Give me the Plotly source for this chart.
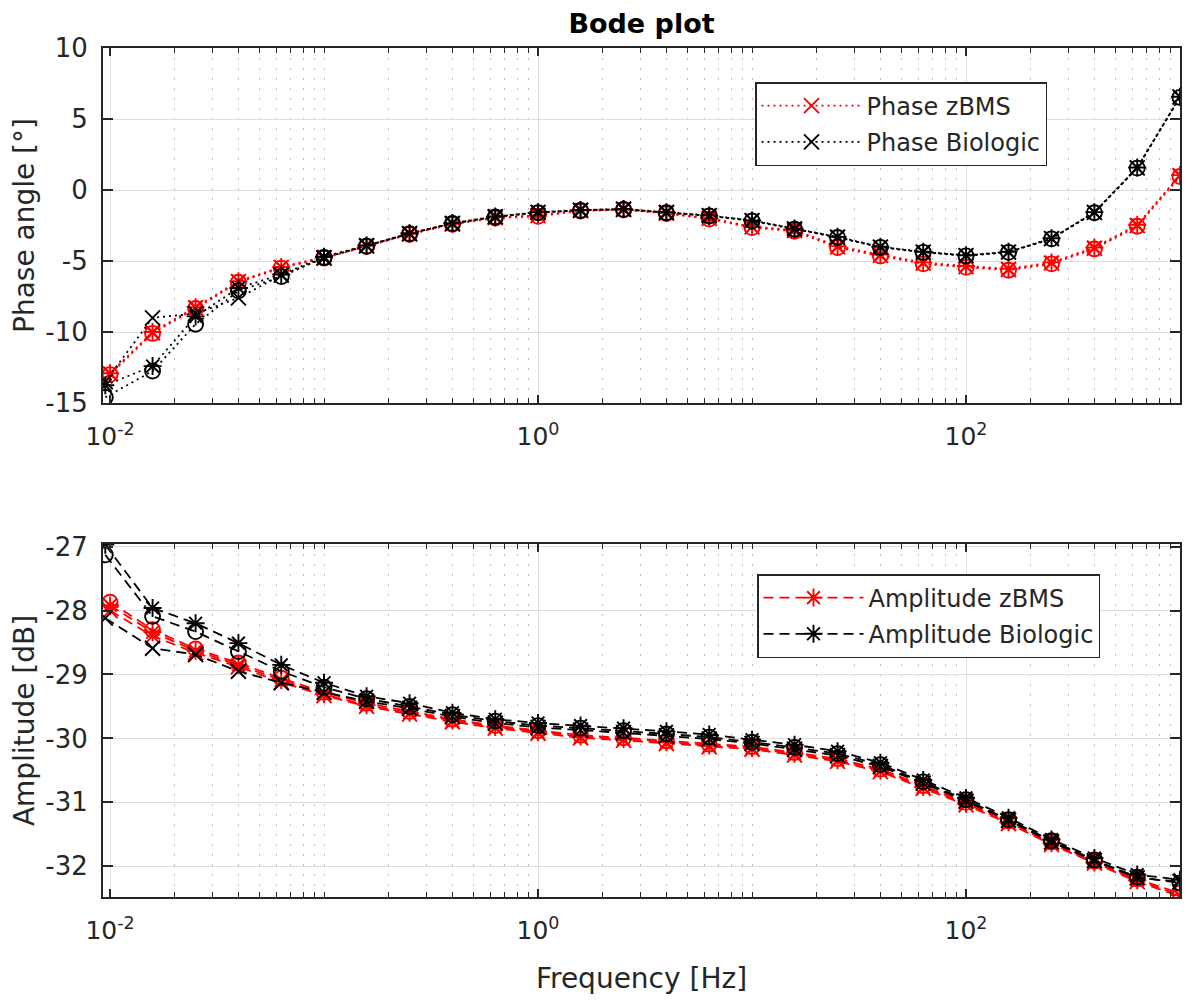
import plotly.graph_objects as go

# ---------------- data ----------------
freq_zbms = [0.01, 0.0158, 0.0251, 0.0398, 0.0631, 0.1, 0.158, 0.251, 0.398, 0.631,
             1.0, 1.58, 2.51, 3.98, 6.31, 10.0, 15.8, 25.1, 39.8, 63.1,
             100.0, 158.0, 251.0, 398.0, 631.0, 1000.0]
freq_biologic = [0.0095, 0.0158, 0.0251, 0.0398, 0.0631, 0.1, 0.158, 0.251, 0.398, 0.631,
                 1.0, 1.58, 2.51, 3.98, 6.31, 10.0, 15.8, 25.1, 39.8, 63.1,
                 100.0, 158.0, 251.0, 398.0, 631.0, 1000.0]

# Phase [deg] - zBMS runs
phase_zbms_x = [-12.95, -10.05, -8.30, -6.45, -5.45, -4.75, -3.95, -3.10, -2.40, -1.95,
                -1.80, -1.45, -1.38, -1.62, -2.00, -2.60, -2.85, -4.00, -4.60, -5.15,
                -5.40, -5.60, -5.15, -4.10, -2.50, 1.00]
phase_zbms_o = [-13.00, -10.10, -8.35, -6.50, -5.50, -4.80, -3.98, -3.12, -2.42, -1.98,
                -1.85, -1.48, -1.40, -1.65, -2.05, -2.65, -2.90, -4.05, -4.65, -5.20,
                -5.45, -5.65, -5.20, -4.15, -2.55, 0.95]
phase_zbms_s = [-12.90, -10.00, -8.25, -6.42, -5.42, -4.72, -3.92, -3.08, -2.38, -1.93,
                -1.78, -1.43, -1.36, -1.60, -1.98, -2.58, -2.82, -3.95, -4.55, -5.10,
                -5.35, -5.55, -5.10, -4.05, -2.45, 1.05]
# Phase [deg] - Biologic runs
phase_bio_x = [-13.50, -9.00, -8.70, -7.60, -6.00, -4.80, -3.92, -3.07, -2.35, -1.88,
               -1.58, -1.42, -1.35, -1.58, -1.81, -2.16, -2.74, -3.32, -4.02, -4.37,
               -4.62, -4.37, -3.42, -1.58, 1.56, 6.55]
phase_bio_o = [-14.60, -12.75, -9.45, -7.10, -6.10, -4.75, -3.95, -3.08, -2.36, -1.90,
               -1.60, -1.44, -1.37, -1.60, -1.83, -2.18, -2.76, -3.34, -4.04, -4.39,
               -4.64, -4.39, -3.44, -1.60, 1.54, 6.52]
phase_bio_s = [-13.75, -12.40, -8.90, -6.90, -5.95, -4.70, -3.90, -3.05, -2.33, -1.86,
               -1.56, -1.40, -1.33, -1.56, -1.79, -2.14, -2.72, -3.30, -4.00, -4.35,
               -4.60, -4.35, -3.40, -1.56, 1.58, 6.57]

# Amplitude [dB] - zBMS runs
amp_zbms_s = [-27.92, -28.34, -28.63, -28.85, -29.09, -29.31, -29.48, -29.60, -29.72, -29.82,
              -29.90, -29.97, -30.01, -30.06, -30.11, -30.15, -30.24, -30.34, -30.50, -30.76,
              -31.02, -31.31, -31.64, -31.94, -32.22, -32.45]
amp_zbms_o = [-27.87, -28.30, -28.60, -28.82, -29.06, -29.28, -29.45, -29.58, -29.70, -29.80,
              -29.88, -29.95, -29.99, -30.04, -30.09, -30.13, -30.22, -30.32, -30.48, -30.74,
              -31.00, -31.29, -31.62, -31.92, -32.20, -32.42]
amp_zbms_x = [-28.00, -28.40, -28.66, -28.88, -29.12, -29.33, -29.50, -29.62, -29.74, -29.84,
              -29.92, -29.99, -30.03, -30.08, -30.13, -30.17, -30.26, -30.36, -30.52, -30.78,
              -31.04, -31.33, -31.66, -31.95, -32.24, -32.47]
# Amplitude [dB] - Biologic runs
amp_bio_s = [-26.97, -27.96, -28.20, -28.51, -28.85, -29.13, -29.34, -29.45, -29.60, -29.70,
             -29.76, -29.80, -29.84, -29.89, -29.94, -30.02, -30.10, -30.20, -30.38, -30.65,
             -30.93, -31.24, -31.58, -31.87, -32.13, -32.21]
amp_bio_o = [-27.13, -28.09, -28.33, -28.64, -28.95, -29.20, -29.38, -29.50, -29.63, -29.73,
             -29.80, -29.84, -29.88, -29.93, -29.98, -30.06, -30.14, -30.24, -30.41, -30.68,
             -30.96, -31.27, -31.60, -31.90, -32.17, -32.26]
amp_bio_x = [-28.12, -28.59, -28.69, -28.95, -29.13, -29.28, -29.42, -29.53, -29.66, -29.76,
             -29.83, -29.87, -29.91, -29.96, -30.01, -30.08, -30.17, -30.27, -30.44, -30.70,
             -30.98, -31.28, -31.62, -31.91, -32.18, -32.24]

x_tickvals = [0.01, 1, 100]
x_ticktext = ["10<sup>-2</sup>", "10<sup>0</sup>", "10<sup>2</sup>"]
phase_ticks = [-15, -10, -5, 0, 5, 10]
amp_ticks = [-32, -31, -30, -29, -28, -27]

# ---------------- styling ----------------
FONT = "DejaVu Sans"
RED = "#ff0000"
BLACK = "#000000"
AX = "#262626"
GRID = "#dedede"
MINOR_GRID = "#bdbdbd"

minor_vals = [m * 10.0 ** d for d in range(-3, 3) for m in range(1, 10)
              if (m * 10.0 ** d) not in (0.01, 1.0, 100.0)] + [1000.0]

fig = go.Figure()


def add(x, y, color, symbol, dash, ax, name, legend, show):
    xa, ya = ("x", "y") if ax == 1 else ("x2", "y2")
    fig.add_trace(go.Scatter(
        x=x, y=y, mode="lines+markers", name=name,
        line=dict(color=color, width=1.8, dash=dash),
        marker=dict(symbol=symbol, size=15, color=color,
                    line=dict(color=color, width=1.9)),
        xaxis=xa, yaxis=ya, showlegend=show, legend=legend, legendgroup=name,
    ))


DOT = "2px,4px"
DASH = "10px,6px"

# phase (top)
add(freq_zbms, phase_zbms_x, RED, "x-thin-open", DOT, 1, "Phase zBMS", "legend", True)
add(freq_zbms, phase_zbms_o, RED, "circle-open", DOT, 1, "Phase zBMS", "legend", False)
add(freq_zbms, phase_zbms_s, RED, "asterisk-open", DOT, 1, "Phase zBMS", "legend", False)
add(freq_biologic, phase_bio_x, BLACK, "x-thin-open", DOT, 1, "Phase Biologic", "legend", True)
add(freq_biologic, phase_bio_o, BLACK, "circle-open", DOT, 1, "Phase Biologic", "legend", False)
add(freq_biologic, phase_bio_s, BLACK, "asterisk-open", DOT, 1, "Phase Biologic", "legend", False)

# amplitude (bottom)
add(freq_zbms, amp_zbms_s, RED, "asterisk-open", DASH, 2, "Amplitude zBMS", "legend2", True)
add(freq_zbms, amp_zbms_o, RED, "circle-open", DASH, 2, "Amplitude zBMS", "legend2", False)
add(freq_zbms, amp_zbms_x, RED, "x-thin-open", DASH, 2, "Amplitude zBMS", "legend2", False)
add(freq_biologic, amp_bio_s, BLACK, "asterisk-open", DASH, 2, "Amplitude Biologic", "legend2", True)
add(freq_biologic, amp_bio_o, BLACK, "circle-open", DASH, 2, "Amplitude Biologic", "legend2", False)
add(freq_biologic, amp_bio_x, BLACK, "x-thin-open", DASH, 2, "Amplitude Biologic", "legend2", False)

# page body has an 8px default margin -> compensate
OFF = 8
W, H = 1192 - OFF, 1001 - OFF
ML, MT = 103 - OFF, 48 - OFF
PW, PH = 1077, 849
MR = W - ML - PW
MB = H - MT - PH

xcommon = dict(
    type="log", range=[-2.033, 3.0], domain=[0, 1],
    tickmode="array", tickvals=x_tickvals, ticktext=x_ticktext,
    ticks="inside", ticklen=8, tickwidth=1.5, tickcolor=AX,
    showline=True, linecolor=AX, linewidth=2, mirror="ticks",
    showgrid=True, gridcolor=GRID, gridwidth=1,
    minor=dict(tickmode="array", tickvals=minor_vals, ticks="inside", ticklen=5,
               tickwidth=1.2, tickcolor=AX, showgrid=True, gridcolor=MINOR_GRID,
               griddash="2px,8px", gridwidth=1.3),
    tickfont=dict(family=FONT, size=25, color=AX),
    ticklabelstandoff=10, zeroline=False, automargin=False,
)
ycommon = dict(
    ticks="inside", ticklen=10, tickwidth=1.5, tickcolor=AX,
    showline=True, linecolor=AX, linewidth=2, mirror="ticks",
    showgrid=True, gridcolor=GRID, gridwidth=1,
    tickfont=dict(family=FONT, size=26, color=AX),
    ticklabelstandoff=8, zeroline=False, automargin=False,
)

fig.update_layout(
    width=W, height=H,
    margin=dict(l=ML, r=MR, t=MT, b=MB),
    paper_bgcolor="white", plot_bgcolor="white",
    title=dict(text="<b>Bode plot</b>", x=0.5, xref="paper", xanchor="center",
               y=1 - (24 - OFF) / H, yref="container", yanchor="middle",
               font=dict(family=FONT, size=27, color="#000000")),
    xaxis=dict(xcommon, anchor="y"),
    yaxis=dict(ycommon, domain=[1 - 355 / PH, 1], range=[-15, 10],
               tickmode="array", tickvals=phase_ticks,
               ticktext=[str(v) for v in phase_ticks],
               title=dict(text="Phase angle [°]", standoff=8,
                          font=dict(family=FONT, size=28, color=AX))),
    xaxis2=dict(xcommon, anchor="y2",
                title=dict(text="Frequency [Hz]", standoff=24,
                           font=dict(family=FONT, size=28, color=AX))),
    yaxis2=dict(ycommon, domain=[0, 1 - 496 / PH], range=[-32.48, -26.96],
                tickmode="array", tickvals=amp_ticks,
                ticktext=[str(v) for v in amp_ticks],
                title=dict(text="Amplitude [dB]", standoff=8,
                           font=dict(family=FONT, size=28, color=AX))),
    legend=dict(x=(755 - 103) / PW, y=1 - (82 - 48) / PH, xanchor="left", yanchor="top",
                bgcolor="white", bordercolor=AX, borderwidth=1.5,
                font=dict(family=FONT, size=24, color=AX),
                itemwidth=100, tracegroupgap=2, traceorder="grouped"),
    legend2=dict(x=(757 - 103) / PW, y=1 - (574 - 48) / PH, xanchor="left", yanchor="top",
                 bgcolor="white", bordercolor=AX, borderwidth=1.5,
                 font=dict(family=FONT, size=24, color=AX),
                 itemwidth=100, tracegroupgap=2, traceorder="grouped"),
)

fig.write_html("out.html")
